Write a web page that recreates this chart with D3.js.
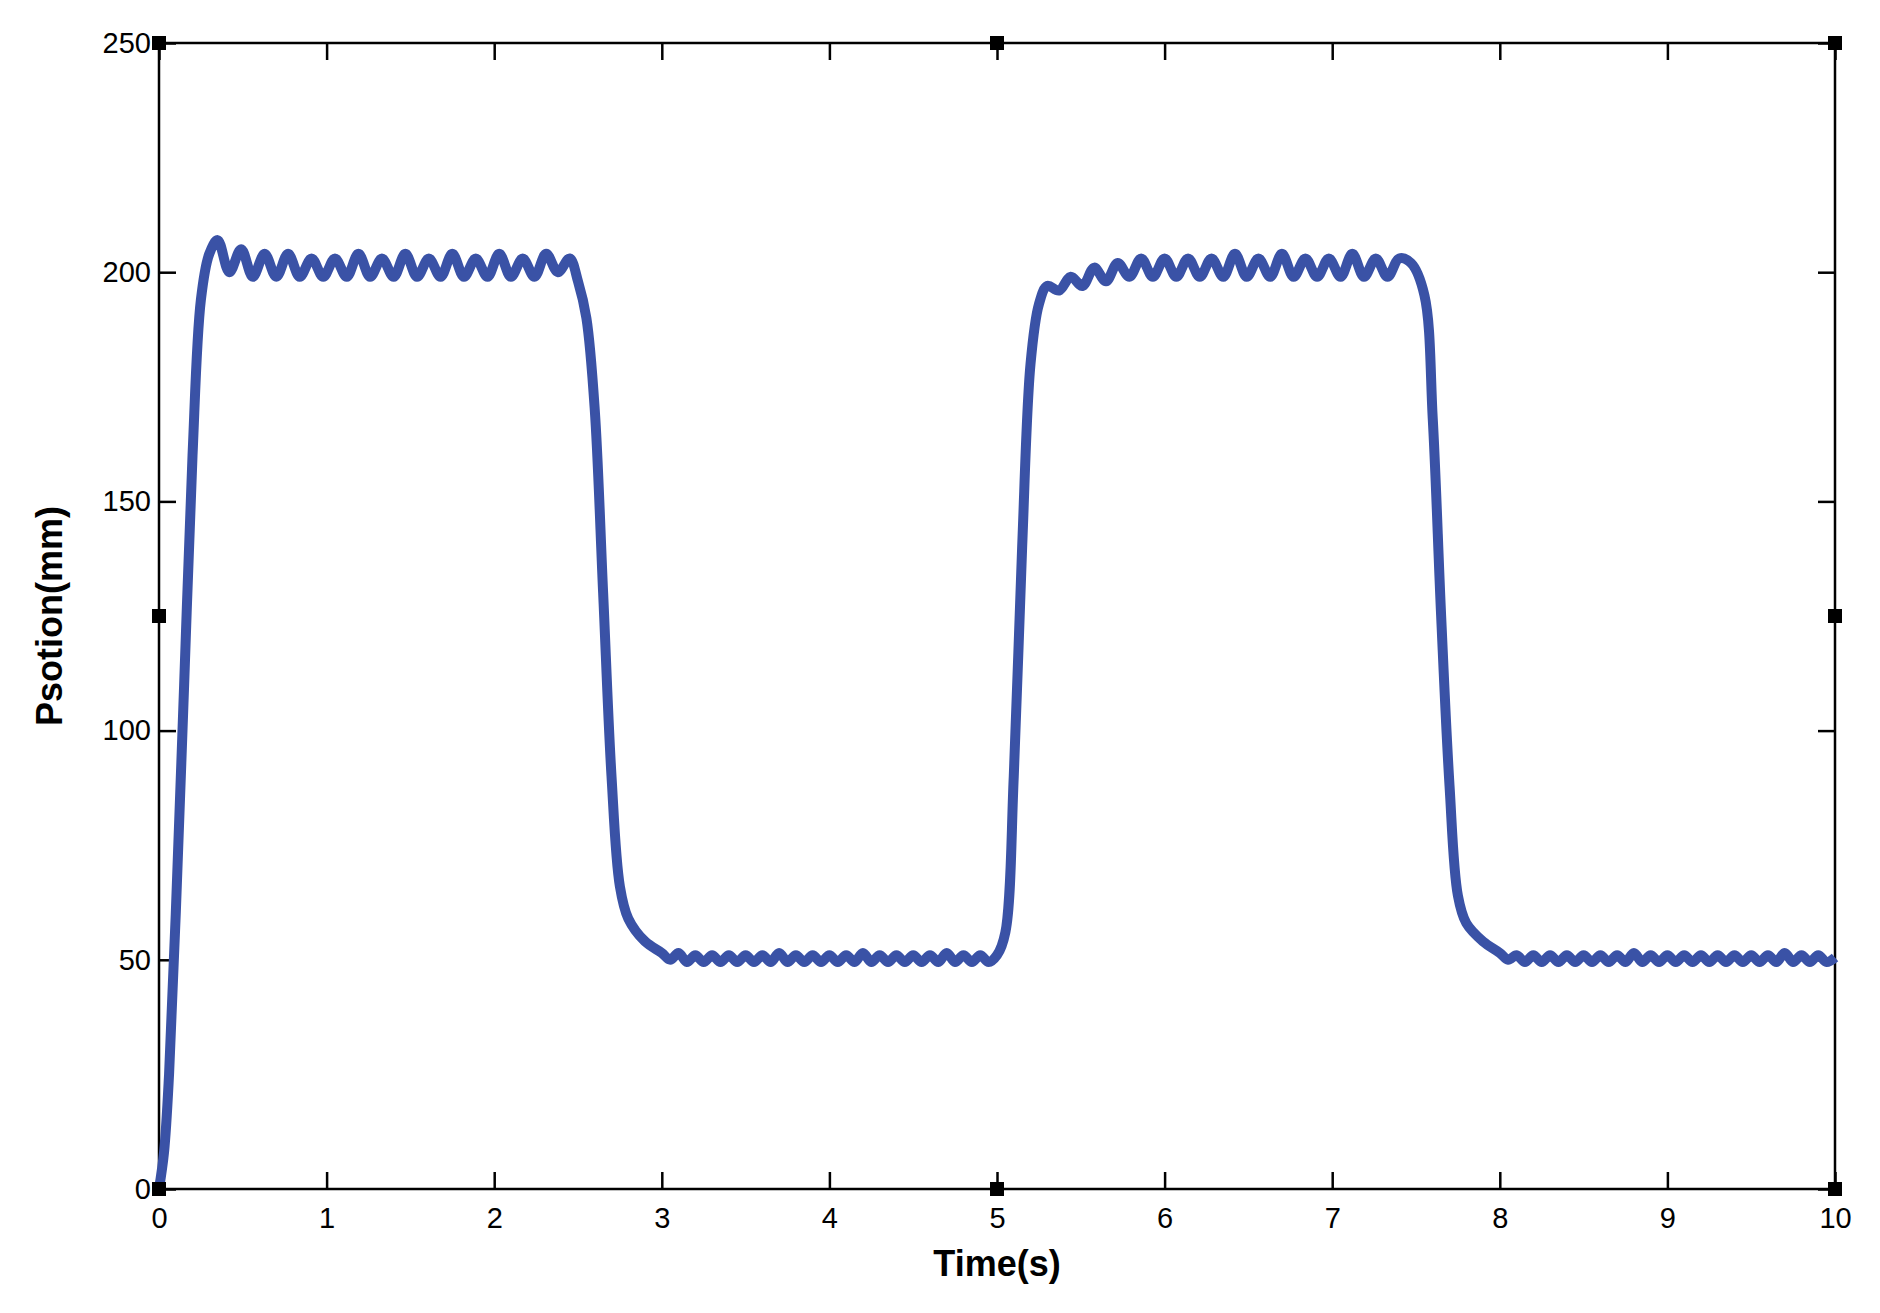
<!DOCTYPE html>
<html><head><meta charset="utf-8">
<script src="https://cdn.jsdelivr.net/npm/d3@7"></script>
<style>body{margin:0;background:#fff}text{font-family:"Liberation Sans",Arial,sans-serif}</style>
</head><body><div id="chart"></div>
<script>
var w = 1880, h = 1313;
var xTicks = [0,1,2,3,4,5,6,7,8,9,10];
var yTicks = [0,50,100,150,200,250];

// [time(s), position(mm)]
var rise1 = [[0,0],[0.03,8],[0.06,25],[0.1,60],[0.15,110],[0.2,160],[0.25,194],[0.3,204]];
var high1 = [[0.35,207],[0.42,200],[0.49,205],[0.56,199],[0.63,204],[0.70,199],[0.77,204],[0.84,199],[0.91,203],[0.98,199],
  [1.05,203],[1.12,199],[1.19,204],[1.26,199],[1.33,203],[1.40,199],[1.47,204],[1.54,199],[1.61,203],[1.68,199],
  [1.75,204],[1.82,199],[1.89,203],[1.96,199],[2.03,204],[2.10,199],[2.17,203],[2.24,199],[2.31,204],[2.38,200],[2.45,203]];
var fall1 = [[2.5,198],[2.55,190],[2.6,170],[2.65,130],[2.7,90],[2.75,66],[2.8,59],[2.9,54]];
var low1 = [[3.0,51.5],[3.05,50],[3.1,51.5],[3.15,49.5],[3.2,51],[3.25,49.5],[3.3,51],[3.35,49.5],[3.4,51],[3.45,49.5],
  [3.5,51],[3.55,49.5],[3.6,51],[3.65,49.5],[3.7,51.5],[3.75,49.5],[3.8,51],[3.85,49.5],[3.9,51],[3.95,49.5],
  [4.0,51],[4.05,49.5],[4.1,51],[4.15,49.5],[4.2,51.5],[4.25,49.5],[4.3,51],[4.35,49.5],[4.4,51],[4.45,49.5],
  [4.5,51],[4.55,49.5],[4.6,51],[4.65,49.5],[4.7,51.5],[4.75,49.5],[4.8,51],[4.85,49.5],[4.9,51],[4.95,49.5],[5.0,51]];
var rise2 = [[5.05,56],[5.1,90],[5.15,140],[5.2,180],[5.25,193],[5.3,197]];
var high2 = [[5.37,196],[5.44,199],[5.51,197],[5.58,201],[5.65,198],[5.72,202],[5.79,199],[5.86,203],[5.93,199],[6.00,203],
  [6.07,199],[6.14,203],[6.21,199],[6.28,203],[6.35,199],[6.42,204],[6.49,199],[6.56,203],[6.63,199],[6.70,204],
  [6.77,199],[6.84,203],[6.91,199],[6.98,203],[7.05,199],[7.12,204],[7.19,199],[7.26,203],[7.33,199],[7.40,203],[7.47,202]];
var fall2 = [[7.55,195],[7.6,168],[7.65,125],[7.7,88],[7.75,64],[7.8,58],[7.9,54]];
var low2 = [[8.0,51.5],[8.05,50],[8.1,51],[8.15,49.5],[8.2,51],[8.25,49.5],[8.3,51],[8.35,49.5],[8.4,51],[8.45,49.5],
  [8.5,51],[8.55,49.5],[8.6,51],[8.65,49.5],[8.7,51],[8.75,49.5],[8.8,51.5],[8.85,49.5],[8.9,51],[8.95,49.5],
  [9.0,51],[9.05,49.5],[9.1,51],[9.15,49.5],[9.2,51],[9.25,49.5],[9.3,51],[9.35,49.5],[9.4,51],[9.45,49.5],
  [9.5,51],[9.55,49.5],[9.6,51],[9.65,49.5],[9.7,51.5],[9.75,49.5],[9.8,51],[9.85,49.5],[9.9,51],[9.95,49.5],[10.0,50.5]];
var handles = [[0,0],[5,0],[10,0],[0,125],[10,125],[0,250],[5,250],[10,250]];

var data = [].concat(rise1, high1, fall1, low1, rise2, high2, fall2, low2);

var margin = {top: 43, right: 45, bottom: 124, left: 159},
    width = w - margin.left - margin.right,
    height = h - margin.top - margin.bottom;

var svg = d3.select("#chart").append("svg").attr("width", w).attr("height", h);
var g = svg.append("g").attr("transform", "translate(" + margin.left + "," + margin.top + ")");

var x = d3.scaleLinear().domain([0, 10]).range([0, width]);
var y = d3.scaleLinear().domain([0, 250]).range([height, 0]);

function styleAxis(sel, labels) {
  sel.select(".domain").remove();
  sel.selectAll("line").attr("stroke", "#000").attr("stroke-width", 2.5);
  sel.selectAll("text").attr("fill", "#000").style("font-size", "29px");
  if (!labels) sel.selectAll("text").remove();
}

g.append("g").attr("transform", "translate(0," + height + ")")
  .call(d3.axisBottom(x).tickValues(xTicks).tickSize(-17).tickPadding(18).tickFormat(d3.format("d")))
  .call(styleAxis, true);
g.append("g").call(d3.axisTop(x).tickValues(xTicks).tickSize(-17)).call(styleAxis, false);
g.append("g")
  .call(d3.axisLeft(y).tickValues(yTicks).tickSize(-17).tickPadding(8))
  .call(styleAxis, true);
g.append("g").attr("transform", "translate(" + width + ",0)")
  .call(d3.axisRight(y).tickValues(yTicks).tickSize(-17)).call(styleAxis, false);

g.append("rect").attr("width", width).attr("height", height)
  .attr("fill", "none").attr("stroke", "#000").attr("stroke-width", 2.5);

var line = d3.line().x(function(d){ return x(d[0]); }).y(function(d){ return y(d[1]); })
  .curve(d3.curveCatmullRom.alpha(0.5));
g.append("path").datum(data).attr("fill", "none").attr("stroke", "#3a52a6")
  .attr("stroke-width", 10).attr("stroke-linejoin", "round").attr("d", line);

g.selectAll(".handle").data(handles).enter().append("rect")
  .attr("x", function(d){ return x(d[0]) - 7; }).attr("y", function(d){ return y(d[1]) - 7; })
  .attr("width", 14).attr("height", 14).attr("fill", "#000");

svg.append("text").attr("x", margin.left + width / 2).attr("y", 1276)
  .attr("text-anchor", "middle").style("font-size", "36px").style("font-weight", "bold").text("Time(s)");
svg.append("text").attr("transform", "translate(62," + (margin.top + height / 2) + ") rotate(-90)")
  .attr("text-anchor", "middle").style("font-size", "36px").style("font-weight", "bold").text("Psotion(mm)");
</script></body></html>
